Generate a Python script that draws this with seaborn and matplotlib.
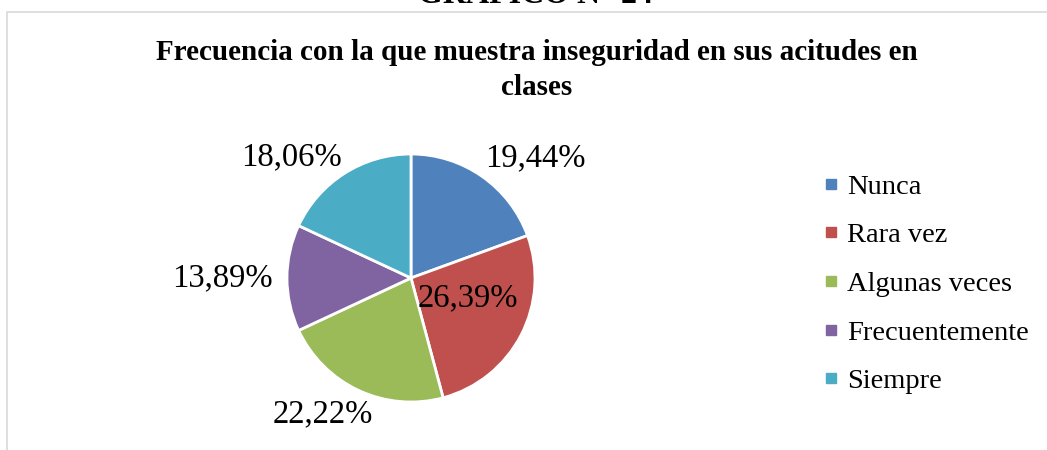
import numpy as np
import matplotlib
matplotlib.use("Agg")
import matplotlib.pyplot as plt
from matplotlib.patches import Rectangle
from matplotlib.lines import Line2D
import seaborn as sns

# data
categories = ["Nunca", "Rara vez", "Algunas veces", "Frecuentemente", "Siempre"]
percentages = [19.44, 26.39, 22.22, 13.89, 18.06]
colors = ["#4F81BD", "#C0504D", "#9BBB59", "#8064A2", "#4BACC6"]
title = "Frecuencia con la que muestra inseguridad en sus acitudes en\nclases"
header = "GRÁFICO N° 24"

# label placement (radius multiple, angle nudge in degrees)
label_dist = [1.39, 0.49, 1.31, 1.52, 1.37]
label_nudge = [-11, 8, -8, 0, 12]

sns.set_style("white")
plt.rcParams["font.family"] = ["Liberation Serif", "DejaVu Serif"]
plt.rcParams["text.color"] = "black"

W, H = 1047, 450
fig = plt.figure(figsize=(W / 100, H / 100), dpi=100)

# outer chart frame
fig.patches.append(Rectangle((7 / W, -0.1), 1.2, 1 - 12 / H + 0.1,
                             transform=fig.transFigure, fill=False,
                             edgecolor="#D9D9D9", linewidth=1.2))

# header of the page, mostly cut off above the chart
fig.text(536 / W, 1 - 3 / H, header, ha="center", va="baseline",
         fontsize=23, fontweight="bold")

fig.text(537 / W, 1 - 39 / H, title, ha="center", va="top",
         fontsize=21, fontweight="bold", linespacing=1.38)

cx, cy, r = 411, 278, 124
ax = fig.add_axes([(cx - r) / W, (H - cy - r) / H, 2 * r / W, 2 * r / H])
wedges, _ = ax.pie(percentages, colors=colors, startangle=90, counterclock=False,
                   radius=1, wedgeprops=dict(edgecolor="white", linewidth=2))
ax.set_xlim(-1, 1)
ax.set_ylim(-1, 1)
ax.set_aspect("auto")
ax.axis("off")

for w, p, d, n in zip(wedges, percentages, label_dist, label_nudge):
    ang = np.deg2rad((w.theta1 + w.theta2) / 2 + n)
    ax.text(d * np.cos(ang), d * np.sin(ang), f"{p:.2f}%".replace(".", ","),
            ha="center", va="center", fontsize=23.5, clip_on=False)

handles = [Line2D([0], [0], marker="s", linestyle="", markersize=7,
                  markerfacecolor=c, markeredgecolor=c) for c in colors]
fig.legend(handles, categories, loc="center left",
           bbox_to_anchor=(810 / W, 1 - 284 / H), frameon=False,
           fontsize=20.5, handlelength=0.5, handletextpad=0.3,
           labelspacing=0.8, borderpad=0)

fig.savefig("out.png", dpi=100)
